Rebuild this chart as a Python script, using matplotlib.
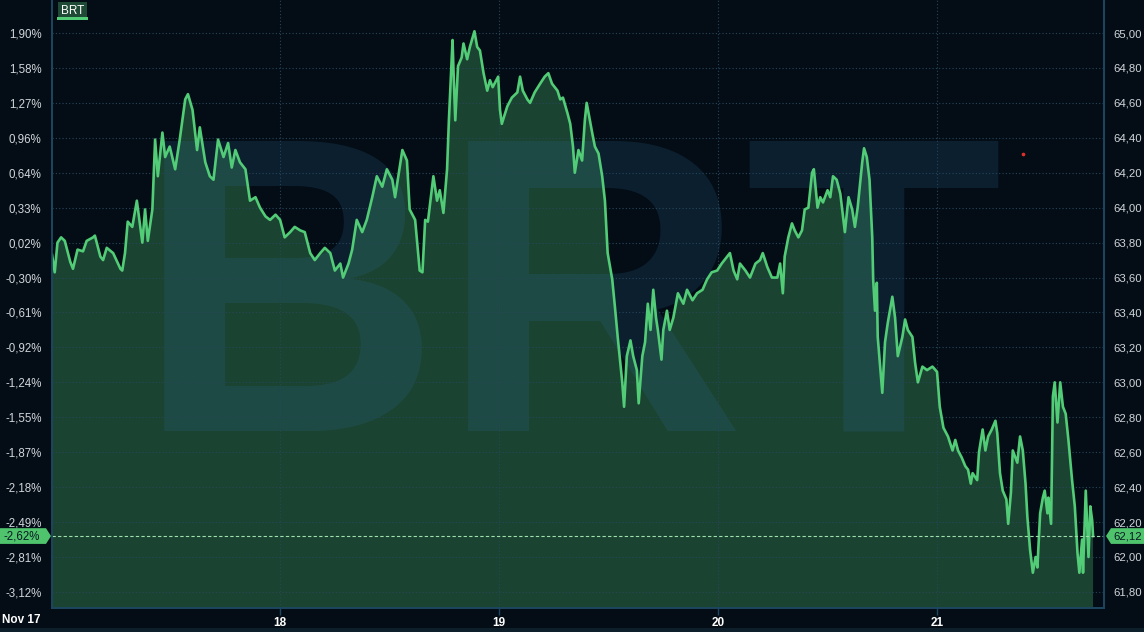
import numpy as np
import matplotlib
matplotlib.use('Agg')
import matplotlib.pyplot as plt
import matplotlib.patches as mpatches
import matplotlib.transforms as mtrans
from matplotlib.ticker import FuncFormatter

plt.rcParams['font.family'] = ['Liberation Sans', 'DejaVu Sans']

# hours since Nov 17 00:00 and BRT price
hours = [-1.0, -0.7, -0.4, 0.0, 0.4, 1.0, 1.3, 1.8, 2.4, 2.8, 3.5, 3.7, 4.3, 4.6, 5.0, 5.7,
         6.5, 6.7, 7.0, 7.3, 7.8, 8.3, 8.9, 9.2, 9.5, 10.0, 10.3, 10.6, 11.1, 11.4, 11.9, 12.5,
         13.0, 13.6, 13.9, 14.4, 14.9, 15.2, 15.8, 16.3, 16.7, 17.2, 17.8, 18.3, 18.7, 19.1, 19.6, 20.2,
         20.7, 21.3, 21.8, 22.4, 22.9, 23.5, 24.0, 24.5, 25.1, 25.6, 26.2, 26.7, 27.3, 27.8, 28.4, 28.9,
         29.5, 30.0, 30.6, 30.9, 31.5, 31.9, 32.4, 33.0, 33.5, 34.1, 34.6, 35.2, 35.7, 36.3, 36.6, 36.9,
         37.4, 37.9, 38.2, 38.8, 39.3, 39.6, 39.9, 40.2, 40.8, 41.2, 41.5, 41.9, 42.3, 42.5, 42.9, 43.0,
         43.2, 43.5, 43.9, 44.1, 44.5, 44.8, 45.3, 45.6, 45.9, 46.3, 46.7, 47.0, 47.3, 47.9, 48.1, 48.3,
         48.9, 49.4, 50.0, 50.3, 50.6, 51.1, 51.4, 51.9, 52.5, 53.0, 53.4, 53.8, 54.4, 54.7, 55.0, 55.5,
         55.8, 56.1, 56.3, 56.7, 57.1, 57.4, 57.6, 58.2, 58.5, 58.9, 59.3, 59.6, 59.9, 60.4, 60.7, 61.0,
         61.5, 61.7, 62.0, 62.4, 62.7, 63.1, 63.3, 63.7, 64.0, 64.3, 64.6, 64.9, 65.2, 65.4, 65.8, 66.0,
         66.4, 66.7, 67.1, 67.6, 68.2, 68.6, 69.2, 69.7, 70.3, 70.8, 71.3, 71.9, 72.4, 73.0, 73.3, 73.7,
         74.1, 74.4, 75.0, 75.5, 76.1, 76.6, 76.9, 77.4, 77.9, 78.5, 78.8, 79.1, 79.3, 79.7, 80.1, 80.4,
         80.8, 81.2, 81.5, 81.9, 82.3, 82.5, 82.9, 83.2, 83.5, 84.0, 84.3, 84.6, 85.0, 85.4, 85.7, 85.9,
         86.3, 86.7, 87.0, 87.3, 87.8, 88.0, 88.3, 88.6, 88.9, 89.0, 89.2, 89.4, 89.5, 89.8, 90.0, 90.3,
         90.6, 91.1, 91.4, 91.7, 92.2, 92.5, 92.8, 93.3, 93.6, 93.9, 94.4, 94.9, 95.5, 96.0, 96.3, 96.7,
         97.2, 97.7, 98.0, 98.3, 98.7, 99.1, 99.4, 99.7, 99.9, 100.4, 100.6, 101.0, 101.3, 101.6, 102.0, 102.4,
         102.6, 102.9, 103.2, 103.6, 103.8, 104.1, 104.3, 104.8, 105.1, 105.4, 105.7, 105.9, 106.2, 106.5, 106.8, 107.0,
         107.3, 107.6, 107.8, 108.1, 108.2, 108.5, 108.7, 108.9, 109.2, 109.5, 109.8, 110.1, 110.4, 110.8, 111.1, 111.4,
         111.6, 111.9, 112.0, 112.3, 112.6, 112.8, 113.0, 113.1]
price = [63.73, 63.63, 63.80, 63.83, 63.81, 63.69, 63.65, 63.76, 63.75, 63.81, 63.83, 63.84, 63.72, 63.70, 63.77, 63.74,
         63.65, 63.64, 63.74, 63.92, 63.89, 64.04, 63.80, 63.99, 63.81, 63.99, 64.39, 64.18, 64.43, 64.29, 64.35, 64.22,
         64.39, 64.62, 64.65, 64.56, 64.33, 64.46, 64.26, 64.18, 64.16, 64.39, 64.29, 64.37, 64.23, 64.33, 64.26, 64.22,
         64.04, 64.06, 64.00, 63.95, 63.93, 63.96, 63.93, 63.83, 63.86, 63.89, 63.87, 63.86, 63.74, 63.70, 63.74, 63.77,
         63.74, 63.64, 63.68, 63.60, 63.68, 63.76, 63.93, 63.86, 63.93, 64.06, 64.18, 64.12, 64.22, 64.16, 64.06, 64.16,
         64.33, 64.27, 63.99, 63.93, 63.64, 63.63, 63.93, 63.92, 64.18, 64.04, 64.10, 63.97, 64.22, 64.50, 64.96, 64.79,
         64.50, 64.81, 64.86, 64.94, 64.85, 64.92, 65.01, 64.92, 64.90, 64.77, 64.67, 64.73, 64.69, 64.75, 64.56, 64.48,
         64.58, 64.63, 64.66, 64.75, 64.67, 64.62, 64.60, 64.66, 64.71, 64.75, 64.77, 64.71, 64.67, 64.62, 64.63, 64.54,
         64.48, 64.35, 64.20, 64.33, 64.27, 64.50, 64.60, 64.43, 64.35, 64.31, 64.18, 64.04, 63.74, 63.59, 63.43, 63.26,
         63.00, 62.86, 63.15, 63.24, 63.15, 63.07, 62.88, 63.15, 63.23, 63.45, 63.30, 63.53, 63.37, 63.30, 63.13, 63.30,
         63.41, 63.30, 63.37, 63.51, 63.45, 63.53, 63.47, 63.51, 63.53, 63.59, 63.63, 63.64, 63.68, 63.72, 63.74, 63.64,
         63.59, 63.68, 63.64, 63.60, 63.68, 63.70, 63.74, 63.66, 63.60, 63.60, 63.68, 63.51, 63.72, 63.83, 63.91, 63.87,
         63.83, 63.87, 63.99, 64.00, 64.20, 64.22, 64.00, 64.06, 64.03, 64.10, 64.06, 64.18, 64.16, 64.08, 63.95, 63.86,
         64.06, 63.99, 63.89, 64.00, 64.26, 64.34, 64.29, 64.16, 63.83, 63.59, 63.41, 63.57, 63.26, 63.07, 62.94, 63.23,
         63.34, 63.49, 63.37, 63.15, 63.26, 63.36, 63.30, 63.26, 63.11, 63.00, 63.09, 63.07, 63.09, 63.06, 62.86, 62.74,
         62.69, 62.61, 62.67, 62.61, 62.57, 62.52, 62.50, 62.42, 62.48, 62.44, 62.60, 62.73, 62.61, 62.69, 62.73, 62.78,
         62.71, 62.48, 62.38, 62.33, 62.19, 62.37, 62.61, 62.54, 62.69, 62.61, 62.42, 62.23, 62.04, 61.91, 62.00, 61.94,
         62.25, 62.34, 62.38, 62.25, 62.34, 62.19, 62.92, 63.00, 62.77, 63.00, 62.86, 62.82, 62.67, 62.44, 62.29, 62.02,
         61.91, 62.10, 61.91, 62.38, 62.00, 62.29, 62.21, 62.12]

prev_close = 63.79
last_price = 62.12
price_ticks = [61.8, 62.0, 62.2, 62.4, 62.6, 62.8, 63.0, 63.2, 63.4, 63.6, 63.8,
               64.0, 64.2, 64.4, 64.6, 64.8, 65.0]
day_ticks = [24, 48, 72, 96]
day_labels = ['18', '19', '20', '21']
first_day_label = 'Nov 17'
alert_hours = [105.4]
alert_price = [64.31]

bg = '#040d16'
fill_c = '#1b4331'
line_c = '#52cc76'
spine_c = '#1d4660'
grid_c = '#27465a'
txt_c = '#d2d6da'

W, H = 1144, 632
fig = plt.figure(figsize=(W / 100, H / 100), dpi=100, facecolor=bg)
ax = fig.add_axes([52 / W, 24 / H, 1052 / W, 608 / H])
ax.set_facecolor(bg)

ax.fill_between(hours, price, 61.0, color=fill_c, lw=0, zorder=1)
ax.plot(hours, price, color=line_c, lw=1.9, zorder=4)
ax.text(0.492, 0.2925, 'BRT', transform=ax.transAxes, ha='center', va='baseline',
        fontsize=304, fontweight='bold', color='#2a6a95', alpha=0.2, zorder=2)
ax.axhline(last_price, color='#9ee0ad', lw=0.8, ls=(0, (3, 2)), zorder=5)
ax.scatter(alert_hours, alert_price, s=7, color='#e0302a', lw=0, zorder=6)

ax.set_xlim(-1.0, 114.3)
ax.set_ylim(61.708, 65.189)
ax.set_yticks(price_ticks)
ax.set_xticks(day_ticks)
ax.set_xticklabels(day_labels, fontweight='bold')
ax.grid(True, color=grid_c, lw=0.8, ls=(0, (1, 2)))
ax.set_axisbelow(False)

pct_fmt = lambda v, pos: ('%.2f%%' % ((v / prev_close - 1) * 100)).replace('.', ',')
ax.yaxis.set_major_formatter(FuncFormatter(pct_fmt))
ax.tick_params(axis='y', length=0, pad=7.5, labelcolor=txt_c, labelsize=8.3)
ax.tick_params(axis='x', length=5, width=1, color=spine_c, pad=1.5, labelcolor='white', labelsize=8.5)

ax2 = ax.twinx()
ax2.set_ylim(ax.get_ylim())
ax2.set_yticks(price_ticks)
ax2.yaxis.set_major_formatter(FuncFormatter(lambda v, pos: ('%.2f' % v).replace('.', ',')))
ax2.tick_params(axis='y', length=0, pad=6.5, labelcolor=txt_c, labelsize=8.2)

for a in (ax, ax2):
    a.spines['top'].set_visible(False)
    for s in ('left', 'right', 'bottom'):
        a.spines[s].set_color(spine_c)
        a.spines[s].set_linewidth(1.2)

fig.text(2 / W, (H - 620) / H, first_day_label, ha='left', va='center', color='white',
         fontsize=8.5, fontweight='bold')

# bottom strip
fig.add_artist(mpatches.Rectangle((0, 0), 1, 4 / H, transform=fig.transFigure,
                                  color='#0e1f2c', lw=0))

# price tags
trans = mtrans.blended_transform_factory(fig.transFigure, ax.transData)
hh = 0.045
tag_c = '#4fc46d'
left_tag = [(0, last_price - hh), (46 / W, last_price - hh), (51 / W, last_price),
            (46 / W, last_price + hh), (0, last_price + hh)]
right_tag = [(1106 / W, last_price), (1111 / W, last_price + hh), (1, last_price + hh),
             (1, last_price - hh), (1111 / W, last_price - hh)]
for verts in (left_tag, right_tag):
    fig.add_artist(mpatches.Polygon(verts, closed=True, transform=trans, color=tag_c, lw=0))
fig.text(3 / W, last_price, pct_fmt(last_price, 0), transform=trans, ha='left', va='center',
         color='#0a1a22', fontsize=8.3)
fig.text(1113 / W, last_price, ('%.2f' % last_price).replace('.', ','), transform=trans,
         ha='left', va='center', color='#0a1a22', fontsize=8.2)

# legend
fig.text(72.5 / W, 1 - 11 / H, 'BRT', ha='center', va='center', color='white', fontsize=8.5,
         bbox=dict(boxstyle='square,pad=0.25', facecolor='#1f4a35', edgecolor='none'))
ul = mpatches.Rectangle((57 / W, 1 - 20 / H), 31 / W, 2.5 / H,
                        transform=fig.transFigure, color=line_c, lw=0)
ul.set_zorder(10)
fig.add_artist(ul)

fig.savefig('out.png', dpi=100, facecolor=bg)
